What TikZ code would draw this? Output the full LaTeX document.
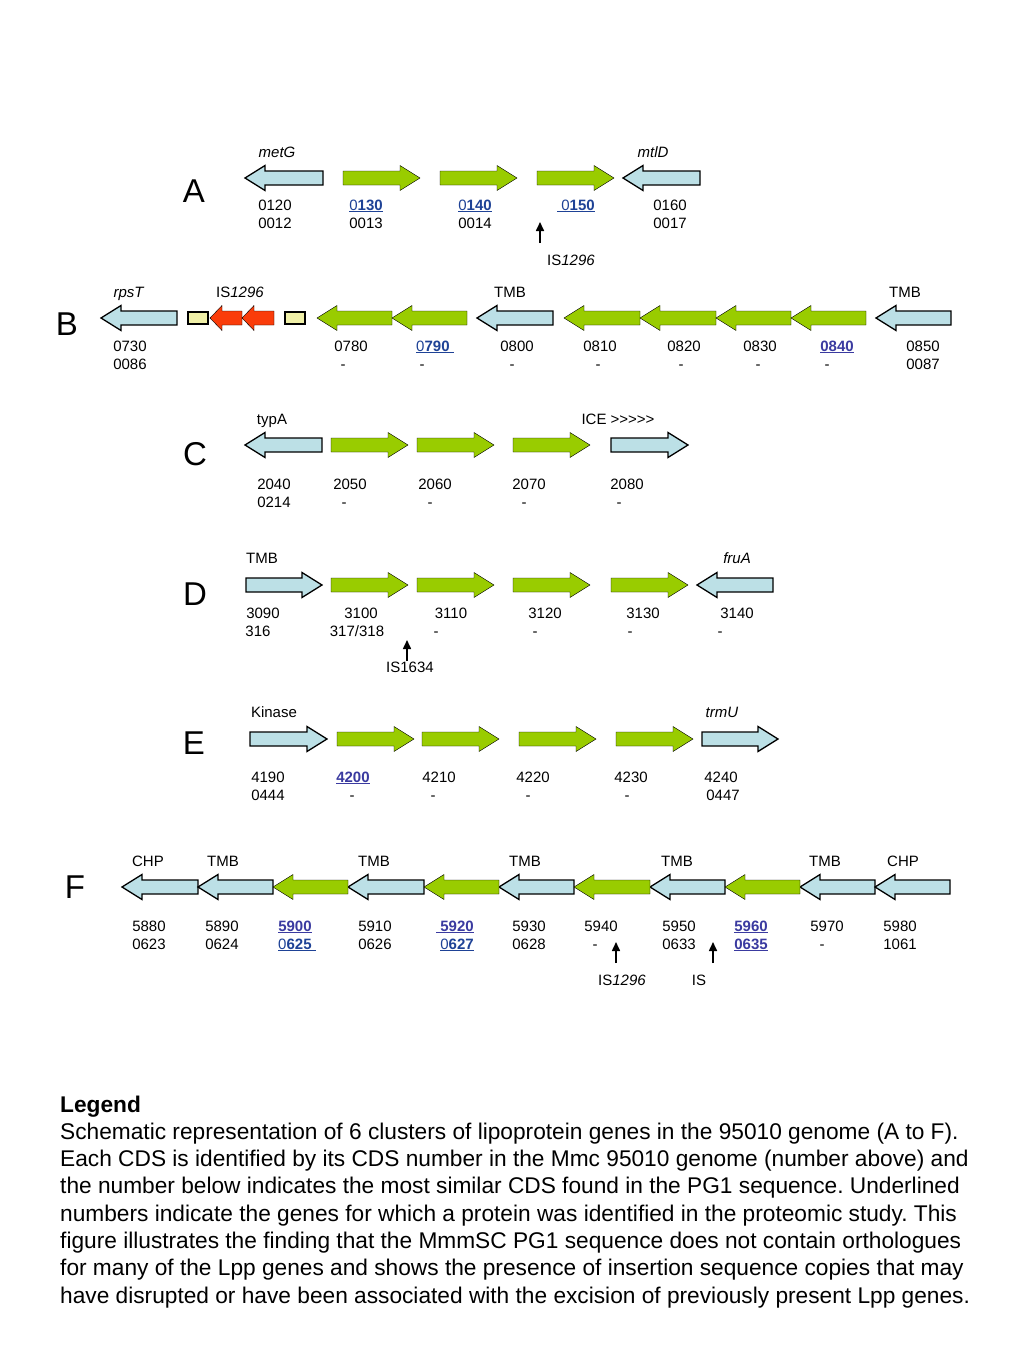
\documentclass[tikz,border=0pt]{standalone}
\usepackage{fontspec}
\setmainfont{Liberation Sans}
\usetikzlibrary{arrows.meta}
\frenchspacing

\definecolor{genecyan}{RGB}{188,224,230}
\definecolor{genegreen}{RGB}{153,204,0}
\definecolor{isred}{RGB}{250,60,10}
\definecolor{isyellow}{RGB}{240,240,168}
\definecolor{linkblue}{RGB}{30,66,150}
\definecolor{linkpurple}{RGB}{58,58,160}

% gene arrows: [head length] style, tip x, tail x, y
\newcommand{\geneleft}[5][20]{%
  \draw[#2] (#3,#5) -- (#3+#1,#5-12.5) -- (#3+#1,#5-7) -- (#4,#5-7)
    -- (#4,#5+7) -- (#3+#1,#5+7) -- (#3+#1,#5+12.5) -- cycle;}
\newcommand{\generight}[5][20]{%
  \draw[#2] (#3,#5) -- (#3-#1,#5-12.5) -- (#3-#1,#5-7) -- (#4,#5-7)
    -- (#4,#5+7) -- (#3-#1,#5+7) -- (#3-#1,#5+12.5) -- cycle;}
% underlined hit in the proteome
\newcommand{\idul}[2][linkblue]{\textcolor{#1}{\underline{#2}}}

\tikzset{
  cds/.style={draw=black, line width=1.3pt, fill=genecyan},
  lpp/.style={fill=genegreen},
  isel/.style={fill=isred},
  flank/.style={draw=black, line width=1.3pt, fill=isyellow},
  num/.style={font=\fontsize{15}{17}\selectfont, anchor=base, inner sep=0pt},
  panel/.style={font=\fontsize{33}{36}\selectfont, anchor=base, inner sep=0pt},
  legline/.style={font=\fontsize{22.7}{26}\selectfont, anchor=base west, inner sep=0pt},
  insert/.style={-{Triangle[length=9pt,width=8pt]}, line width=1.6pt}
}

\begin{document}
\begin{tikzpicture}[x=1pt,y=-1pt]
\fill[white] (0,0) rectangle (1024,1365);
\useasboundingbox (0,0) rectangle (1024,1365);

% cluster A
\node[panel] (pA) at (194,202) {A};
\node[num] (gA1) at (277,157) {\textit{metG}};
\node[num] (gA2) at (653,157) {\textit{mtlD}};
\geneleft{cds}{245}{323}{178}
\foreach \a in {343,440,537} {\generight{lpp}{\a+77}{\a}{178}}
\geneleft{cds}{623}{700}{178}
\node[num] (tA1) at (275,210) {0120};
\node[num] (tA2) at (366,210) {\idul{0\textbf{130}}};
\node[num] (tA3) at (475,210) {\idul{0\textbf{140}}};
\node[num] (tA4) at (576,210) {\idul{\ 0\textbf{150}}};
\node[num] (tA5) at (670,210) {0160};
\foreach \x/\d [count=\i] in {275/0012,366/0013,475/0014,670/0017}
  \node[num] (bA\i) at (\x,228) {\d};
\coordinate (isAfoot) at (540,243);
\coordinate (isAtip) at (540,222);
\draw[insert] (isAfoot) -- (isAtip);
\node[num] (isA) at (571,265) {IS\textit{1296}};

% cluster B
\node[panel] (pB) at (67,335) {B};
\node[num] (gB1) at (129,297) {\textit{rpsT}};
\node[num] (gB2) at (240,297) {IS\textit{1296}};
\node[num] (gB3) at (510,297) {TMB};
\node[num] (gB4) at (905,297) {TMB};
\geneleft{cds}{101}{177}{318}
\draw[flank] (188,312) rectangle (208,324);
\geneleft[12]{isel}{210}{242}{318}
\geneleft[12]{isel}{242}{274}{318}
\draw[flank] (285,312) rectangle (305,324);
\geneleft{lpp}{317}{392}{318}
\geneleft{lpp}{392}{467}{318}
\geneleft{cds}{477}{553}{318}
\foreach \a/\b in {564/640,640/716,716/791,791/866} {\geneleft{lpp}{\a}{\b}{318}}
\geneleft{cds}{876}{951}{318}
\foreach \x/\t [count=\i] in {130/0730,351/0780,517/0800,600/0810,684/0820,760/0830,923/0850}
  \node[num] (tB\i) at (\x,351) {\t};
\node[num] (tB8) at (435,351) {\idul{0\textbf{790}\ }};
\node[num] (tB9) at (837,351) {\idul[linkpurple]{\textbf{0840}}};
\foreach \x/\d [count=\i] in {130/0086,343/-,422/-,512/-,598/-,681/-,758/-,827/-,923/0087}
  \node[num] (bB\i) at (\x,369) {\d};

% cluster C
\node[panel] (pC) at (195,465) {C};
\node[num] (gC1) at (272,424) {typA};
\node[num] (gC2) at (618,424) {ICE >{}>{}>{}>{}>};
\geneleft{cds}{245}{322}{445}
\foreach \a in {331,417,513} {\generight{lpp}{\a+77}{\a}{445}}
\generight{cds}{688}{611}{445}
\foreach \x/\t [count=\i] in {274/2040,350/2050,435/2060,529/2070,627/2080}
  \node[num] (tC\i) at (\x,489) {\t};
\foreach \x/\d [count=\i] in {274/0214,344/-,430/-,524/-,619/-}
  \node[num] (bC\i) at (\x,507) {\d};

% cluster D
\node[panel] (pD) at (195,605) {D};
\node[num] (gD1) at (262,563) {TMB};
\node[num] (gD2) at (737,563) {\textit{fruA}};
\generight{cds}{322}{246}{585}
\foreach \a in {331,417,513,611} {\generight{lpp}{\a+77}{\a}{585}}
\geneleft{cds}{697}{773}{585}
\foreach \x/\t [count=\i] in {263/3090,361/3100,451/3110,545/3120,643/3130,737/3140}
  \node[num] (tD\i) at (\x,618) {\t};
\foreach \x/\d [count=\i] in {258/316,357/317\slash318,436/-,535/-,630/-,720/-}
  \node[num] (bD\i) at (\x,636) {\d};
\coordinate (isDfoot) at (407,661);
\coordinate (isDtip) at (407,640);
\draw[insert] (isDfoot) -- (isDtip);
\node[num] (isD) at (410,672) {IS1634};

% cluster E
\node[panel] (pE) at (194,754) {E};
\node[num] (gE1) at (274,717) {Kinase};
\node[num] (gE2) at (722,717) {\textit{trmU}};
\generight{cds}{327}{250}{739}
\foreach \a in {337,422,519,616} {\generight{lpp}{\a+77}{\a}{739}}
\generight{cds}{778}{702}{739}
\foreach \x/\t [count=\i] in {268/4190,439/4210,533/4220,631/4230,721/4240}
  \node[num] (tE\i) at (\x,782) {\t};
\node[num] (tE6) at (353,782) {\idul[linkpurple]{\textbf{4200}}};
\foreach \x/\d [count=\i] in {268/0444,352/-,433/-,528/-,627/-,723/0447}
  \node[num] (bE\i) at (\x,800) {\d};

% cluster F
\node[panel] (pF) at (75,898) {F};
\foreach \x/\g [count=\i] in {148/CHP,223/TMB,374/TMB,525/TMB,677/TMB,825/TMB,903/CHP}
  \node[num] (gF\i) at (\x,866) {\g};
\foreach \a/\b in {122/198,198/273,348/424,499/574,650/725,800/875,875/950} {\geneleft{cds}{\a}{\b}{887}}
\foreach \a/\b in {273/348,424/499,574/650,725/800} {\geneleft{lpp}{\a}{\b}{887}}
\foreach \x/\t [count=\i] in {149/5880,222/5890,375/5910,529/5930,601/5940,679/5950,827/5970,900/5980}
  \node[num] (tF\i) at (\x,931) {\t};
\node[num] (tF9) at (295,931) {\idul[linkpurple]{\textbf{5900}}};
\node[num] (tF10) at (455,931) {\idul[linkpurple]{\textbf{\ 5920}}};
\node[num] (tF11) at (751,931) {\idul[linkpurple]{\textbf{5960}}};
\foreach \x/\d [count=\i] in {149/0623,222/0624,375/0626,529/0628,595/-,679/0633,822/-,900/1061}
  \node[num] (bF\i) at (\x,949) {\d};
\node[num] (bF9) at (297,949) {\idul{0\textbf{625}\ }};
\node[num] (bF10) at (457,949) {\idul{0\textbf{627}}};
\node[num] (bF11) at (751,949) {\idul[linkpurple]{\textbf{0635}}};
\coordinate (isF1foot) at (616,963);
\coordinate (isF1tip) at (616,942);
\coordinate (isF2foot) at (713,963);
\coordinate (isF2tip) at (713,942);
\draw[insert] (isF1foot) -- (isF1tip);
\draw[insert] (isF2foot) -- (isF2tip);
\node[num] (isF1) at (622,985) {IS\textit{1296}};
\node[num] (isF2) at (699,985) {IS};

% legend
\node[legline] (leg0) at (60,1112) {\textbf{Legend}};
\foreach \txt [count=\i] in {
  {Schematic representation of 6 clusters of lipoprotein genes in the 95010 genome (A to F).},
  {Each CDS is identified by its CDS number in the Mmc 95010 genome (number above) and},
  {the number below indicates the most similar CDS found in the PG1 sequence. Underlined},
  {numbers indicate the genes for which a protein was identified in the proteomic study. This},
  {figure illustrates the finding that the MmmSC PG1 sequence does not contain orthologues},
  {for many of the Lpp genes and shows the presence of insertion sequence copies that may},
  {have disrupted or have been associated with the excision of previously present Lpp genes.}}
  \node[legline] (leg\i) at (60,1112+27.3*\i) {\txt};
\end{tikzpicture}
\end{document}
